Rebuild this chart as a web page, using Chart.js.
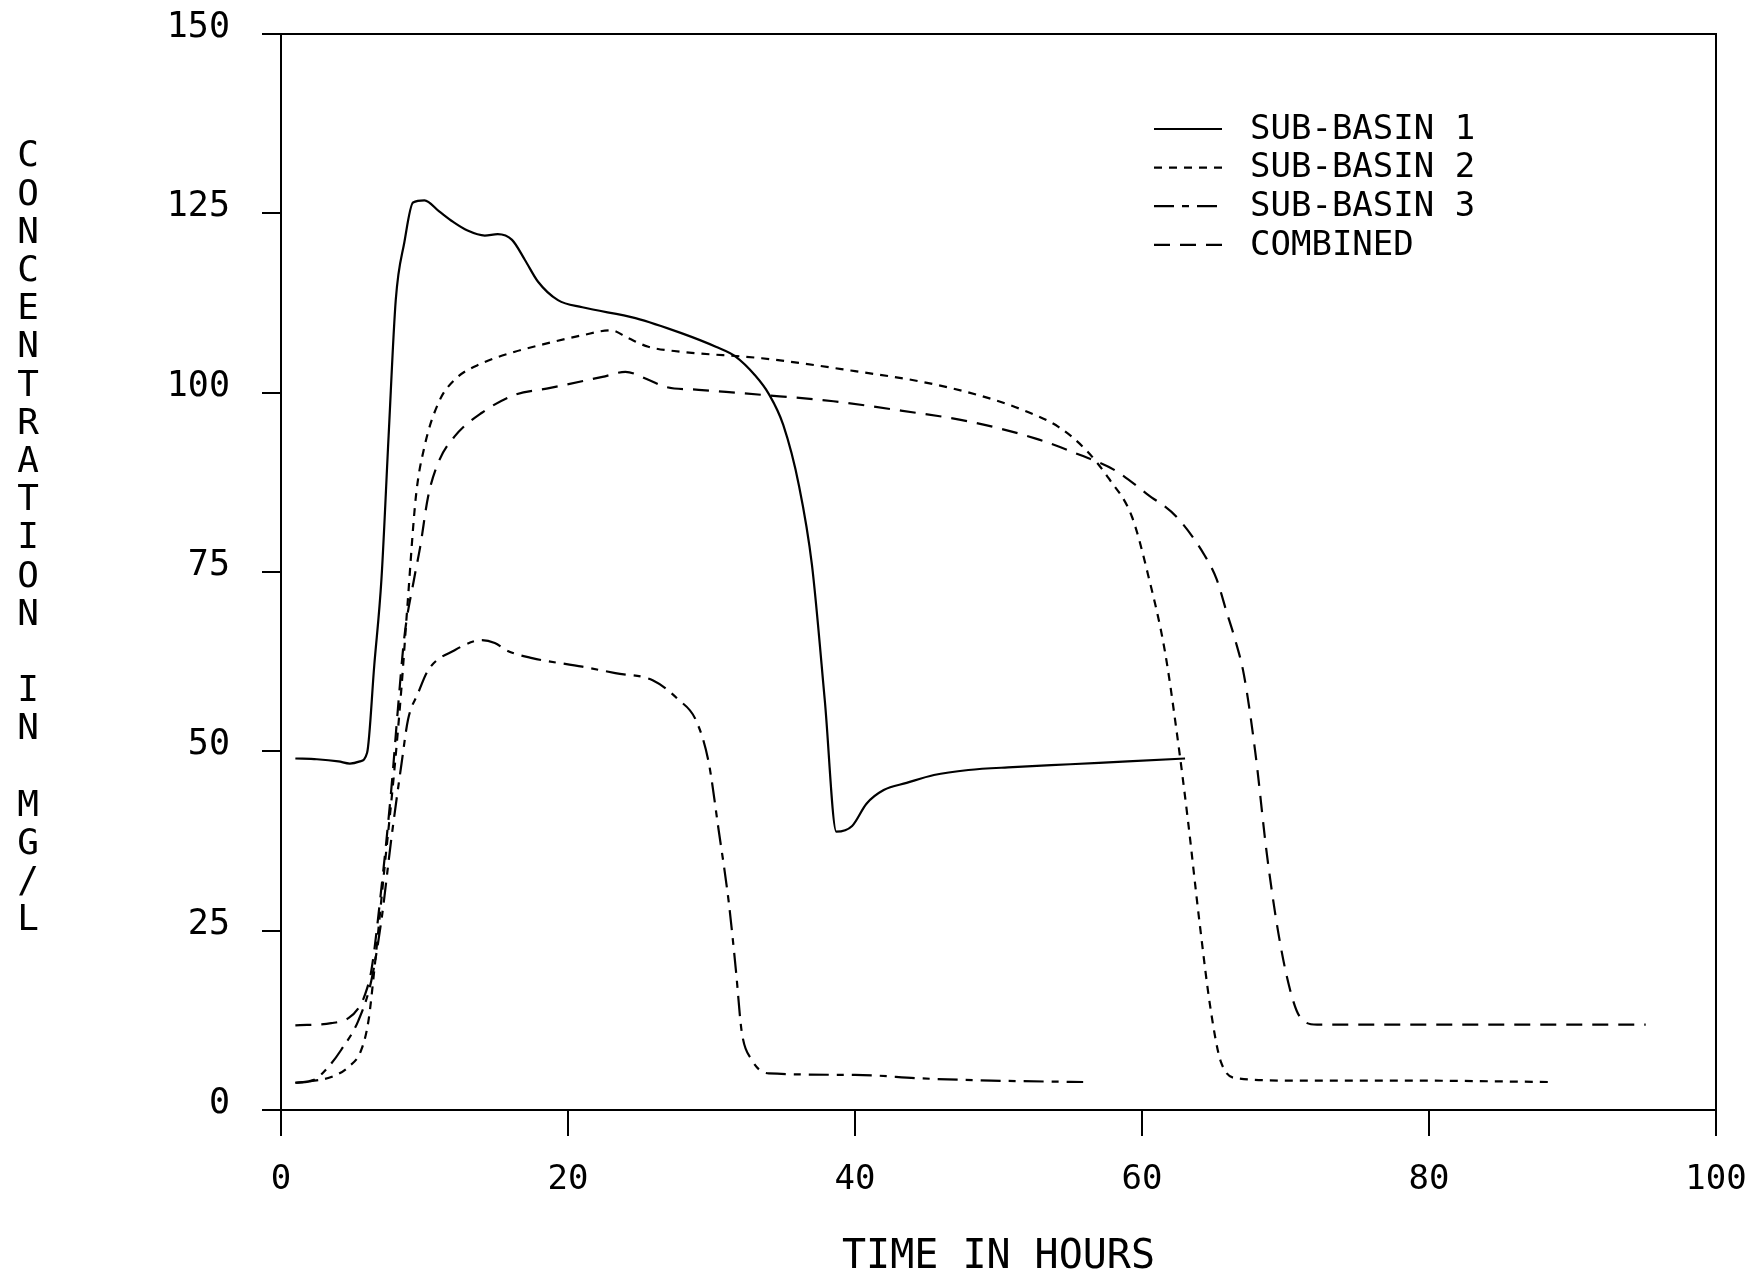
<!DOCTYPE html>
<html>
<head>
<meta charset="utf-8">
<script src="https://cdn.jsdelivr.net/npm/chart.js@4"></script>
<style>
html, body { margin: 0; padding: 0; background: #fff; }
</style>
</head>
<body>
<canvas id="grafico" width="1762" height="1274"></canvas>
<script>
const fuente = "'DejaVu Sans Mono', 'Liberation Mono', monospace";

const nombresSeries = ['SUB-BASIN 1', 'SUB-BASIN 2', 'SUB-BASIN 3', 'COMBINED'];
const tituloY = 'CONCENTRATION IN MG/L';
const tituloX = 'TIME IN HOURS';
const ticksY = [0, 25, 50, 75, 100, 125, 150];
const ticksX = [0, 20, 40, 60, 80, 100];

const horasSub1 = [1, 2.5, 4, 4.8, 5.5, 6, 6.5, 7, 7.5, 8, 8.6, 9.2, 10, 11, 12, 13, 14.2, 15.1, 16.1, 17, 17.9, 19.3, 21, 24.7, 27.9, 30.3, 31.7, 33, 34, 35, 36.1, 37, 37.9, 38.7, 39.8, 40.8, 42, 43.6, 45.5, 47.9, 51, 55, 59, 63];
const concSub1 = [49, 48.9, 48.6, 48.3, 48.6, 49.8, 62, 74, 94, 113, 121, 126.5, 126.8, 125.3, 123.8, 122.6, 121.9, 122.1, 121.3, 118.5, 115.5, 112.9, 111.9, 110.4, 108.3, 106.4, 105, 102.5, 99.8, 95.5, 87, 76, 57, 38.8, 39.6, 42.7, 44.6, 45.6, 46.7, 47.4, 47.8, 48.2, 48.6, 49];

const horasSub2 = [1, 2, 3.5, 4.7, 5.6, 6.1, 6.5, 7.2, 7.9, 8.4, 8.8, 9.4, 10, 11, 12.1, 14, 16.3, 18.6, 21, 23, 24.2, 25.6, 27.9, 33.5, 40, 44.7, 48.7, 51.8, 54.2, 56.1, 57.7, 59.3, 60.4, 61.6, 62.4, 63.2, 64, 64.8, 65.5, 66.7, 70.6, 78.5, 88.5];
const concSub2 = [3.8, 4, 4.6, 6, 8.4, 12.5, 19.5, 33.5, 47.4, 59, 70, 85.5, 92.5, 98.7, 101.8, 104.1, 105.7, 106.9, 108, 108.7, 107.6, 106.4, 105.7, 104.8, 103, 101.5, 99.6, 97.5, 95.2, 92, 88, 82.7, 74.8, 63.9, 53, 40.4, 26.3, 13.8, 6.7, 4.4, 4.1, 4.1, 3.9];

const horasSub3 = [1, 2.3, 3.3, 4.2, 5.4, 6.3, 7, 7.7, 8.4, 8.85, 9.55, 10.25, 12.1, 14, 14.9, 15.8, 17.5, 21, 23.3, 25.9, 27.7, 28.9, 29.8, 30.5, 31.2, 31.7, 32.1, 32.8, 34, 40, 44.7, 49.5, 55.9];
const concSub3 = [3.8, 4.2, 6, 8.4, 12.5, 18.1, 26.5, 38, 48.3, 54.4, 58.1, 61.3, 64.1, 65.5, 65.1, 64, 63, 61.8, 60.9, 59.9, 57.2, 54.4, 48.5, 39, 29, 19.5, 11, 7, 5.1, 4.9, 4.4, 4.1, 3.9];

const horasComb = [1, 3.5, 4.7, 5.4, 5.8, 6.3, 7, 7.7, 8.15, 8.6, 9.3, 9.7, 10.25, 10.95, 12.1, 14, 16.3, 18.6, 22.4, 24, 25.6, 26.8, 29.1, 33.5, 38.5, 43.2, 47.9, 52.6, 55.7, 58.1, 60.4, 62.4, 64.4, 65.2, 65.9, 66.5, 67.1, 67.9, 68.7, 69.5, 70.3, 71, 72.2, 82.4, 95.1];
const concComb = [11.8, 12.1, 12.8, 14.2, 15.8, 19.5, 31, 45, 56, 66, 74.3, 78.5, 85.5, 90.2, 93.9, 97.2, 99.7, 100.6, 102.2, 102.9, 101.8, 100.8, 100.4, 99.7, 98.8, 97.5, 96, 93.6, 91.3, 89.2, 85.8, 82.7, 77.2, 74, 69.4, 65.5, 60.7, 49.8, 35.7, 24.7, 16.9, 13, 11.9, 11.9, 11.9];

const trazos = [[], [8, 7], [20, 8, 7, 8], [16, 10]];

function puntos(horas, conc) {
    return horas.map((h, i) => ({ x: h, y: conc[i] }));
}

const series = [
    puntos(horasSub1, concSub1),
    puntos(horasSub2, concSub2),
    puntos(horasSub3, concSub3),
    puntos(horasComb, concComb)
];

// marco, titulo vertical y leyenda dibujados a mano
const decoracion = {
    id: 'decoracion',
    afterDraw(chart) {
        const { ctx, chartArea: a } = chart;
        ctx.save();
        ctx.strokeStyle = '#000';
        ctx.lineWidth = 2;
        ctx.beginPath();
        ctx.moveTo(a.left, a.top);
        ctx.lineTo(a.right, a.top);
        ctx.lineTo(a.right, a.bottom);
        ctx.stroke();

        ctx.fillStyle = '#000';
        ctx.font = `36px ${fuente}`;
        ctx.textAlign = 'center';
        ctx.textBaseline = 'middle';
        [...tituloY].forEach((letra, i) => {
            ctx.fillText(letra, 28, a.top + 123 + i * 38.2);
        });

        ctx.font = `34px ${fuente}`;
        ctx.textAlign = 'left';
        chart.data.datasets.forEach((ds, i) => {
            const y = a.top + 95 + i * 38.6;
            ctx.setLineDash(ds.borderDash);
            ctx.lineWidth = 2.2;
            ctx.beginPath();
            ctx.moveTo(a.left + 873, y);
            ctx.lineTo(a.left + 941, y);
            ctx.stroke();
            ctx.setLineDash([]);
            ctx.fillText(ds.label, a.left + 969, y + 1);
        });
        ctx.restore();
    }
};

new Chart(document.getElementById('grafico'), {
    type: 'line',
    data: {
        datasets: series.map((datos, i) => ({
            label: nombresSeries[i],
            data: datos,
            borderColor: '#000',
            borderWidth: 2.2,
            borderDash: trazos[i],
            pointRadius: 0,
            fill: false,
            cubicInterpolationMode: 'monotone'
        }))
    },
    options: {
        responsive: false,
        animation: false,
        layout: { padding: { top: 34, right: 46, left: 0, bottom: 0 } },
        plugins: {
            legend: { display: false },
            tooltip: { enabled: false }
        },
        scales: {
            x: {
                type: 'linear',
                min: 0,
                max: 100,
                afterBuildTicks: scale => { scale.ticks = ticksX.map(v => ({ value: v })); },
                afterFit: scale => {
                    scale.height = 164;
                    scale.paddingLeft = 0;
                    scale.paddingRight = 0;
                },
                grid: { drawOnChartArea: false, drawTicks: true, tickLength: 26, color: '#000', lineWidth: 2 },
                border: { display: true, color: '#000', width: 2 },
                ticks: { color: '#000', font: { family: fuente, size: 34 }, padding: 24, maxRotation: 0 },
                title: { display: true, text: tituloX, color: '#000', font: { family: fuente, size: 40 }, padding: { top: 0, bottom: -8 } }
            },
            y: {
                type: 'linear',
                min: 0,
                max: 150,
                afterBuildTicks: scale => { scale.ticks = ticksY.map(v => ({ value: v })); },
                afterFit: scale => {
                    scale.width = 281;
                    scale.paddingTop = 0;
                    scale.paddingBottom = 0;
                },
                grid: { drawOnChartArea: false, drawTicks: true, tickLength: 19, color: '#000', lineWidth: 2 },
                border: { display: true, color: '#000', width: 2 },
                ticks: { color: '#000', font: { family: fuente, size: 35 }, padding: 32, labelOffset: -6 }
            }
        }
    },
    plugins: [decoracion]
});
</script>
</body>
</html>
